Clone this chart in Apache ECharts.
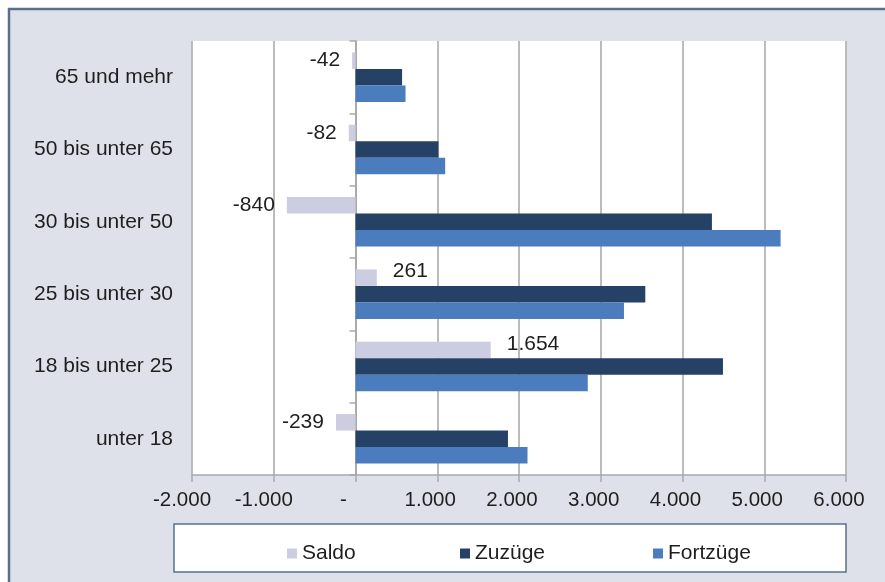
<!DOCTYPE html>
<html><head><meta charset="utf-8">
<script src="https://cdn.jsdelivr.net/npm/echarts@6/dist/echarts.min.js"></script>
<style>html,body{margin:0;padding:0;background:#fff}#c{width:885px;height:582px}</style>
</head><body><div id="c"></div>
<script>
const categories = ['unter 18', '18 bis unter 25', '25 bis unter 30', '30 bis unter 50', '50 bis unter 65', '65 und mehr'];
const saldo = [-239, 1654, 261, -840, -82, -42];
const zuzuege = [1865, 4495, 3545, 4360, 1015, 570];
const fortzuege = [2104, 2841, 3284, 5200, 1097, 612];
const xTicks = { min: -2000, max: 6000, step: 1000 };

function fmt(v) {
  const s = Math.abs(v).toString().replace(/\B(?=(\d{3})+(?!\d))/g, '.');
  return (v < 0 ? '-' : '') + s;
}
const FONT = 'Liberation Sans, Arial, sans-serif';
const TXT = '#1e1e1e';
const FS = 21;
const chart = echarts.init(document.getElementById('c'), null, { renderer: 'canvas' });
chart.setOption({
  backgroundColor: '#fff',
  animation: false,
  textStyle: { fontFamily: FONT },
  graphic: [
    { type: 'rect', z: -10, shape: { x: 9, y: 9, width: 900, height: 600 },
      style: { fill: '#dee1e9', stroke: '#5b6f8a', lineWidth: 2.5 } },
    { type: 'rect', z: -5, shape: { x: 174, y: 524, width: 672, height: 48 },
      style: { fill: '#fff', stroke: '#55708f', lineWidth: 1.5 } }
  ],
  grid: { left: 192, right: 39, top: 41, bottom: 107, show: true, backgroundColor: '#fff', borderWidth: 0 },
  legend: [
    { data: ['Saldo'], left: 282, top: 538 },
    { data: ['Zuzüge'], left: 455, top: 538 },
    { data: ['Fortzüge'], left: 648, top: 538 }
  ].map(l => Object.assign(l, { itemWidth: 10, itemHeight: 10, itemGap: 5, icon: 'rect',
      textStyle: { fontFamily: FONT, fontSize: FS, color: TXT } })),
  xAxis: {
    type: 'value', min: xTicks.min, max: xTicks.max, interval: xTicks.step,
    axisLine: { show: true, lineStyle: { color: '#a9a9a9', width: 1.5 } },
    axisTick: { show: true, length: 7, lineStyle: { color: '#a9a9a9', width: 1.5 } },
    splitLine: { show: true, lineStyle: { color: '#b5b5b5', width: 1.8 } },
    axisLabel: {
      margin: 15, fontSize: 20.5, color: TXT, fontFamily: FONT,
      formatter: v => v < 0 ? '{n|' + fmt(v) + '}' : (v === 0 ? '{z|-}' : '{p|' + fmt(v) + '}'),
      rich: {
        n: { fontSize: 20.5, color: TXT, fontFamily: FONT, padding: [0, 20, 0, 0] },
        p: { fontSize: 20.5, color: TXT, fontFamily: FONT, padding: [0, 14, 0, 0] },
        z: { fontSize: 20.5, color: TXT, fontFamily: FONT, padding: [0, 24, 0, 0] }
      }
    }
  },
  yAxis: [
    { type: 'category', data: categories, position: 'left',
      axisLine: { show: false, onZero: false }, axisTick: { show: false },
      axisLabel: { margin: 19, fontSize: FS, color: TXT, fontFamily: FONT } },
    { type: 'category', data: categories, position: 'left',
      axisLine: { show: true, onZero: true, lineStyle: { color: '#a9a9a9', width: 1.8 } },
      axisTick: { show: true, length: 6, lineStyle: { color: '#a9a9a9', width: 1.5 } },
      axisLabel: { show: false } }
  ],
  series: [
    { name: 'Saldo', type: 'bar', yAxisIndex: 0, barWidth: 16.5, barGap: '0%',
      itemStyle: { color: '#cccde0' },
      data: saldo.map(v => ({ value: v, label: v < 0
        ? { position: 'left', distance: 12, offset: [0, 0] }
        : { position: 'right', distance: 16, offset: [0, -6] } })),
      label: { show: true, fontSize: FS, color: TXT, fontFamily: FONT,
        formatter: p => fmt(p.value) } },
    { name: 'Zuzüge', type: 'bar', yAxisIndex: 0, barWidth: 16.5, barGap: '0%',
      itemStyle: { color: '#254166' }, data: zuzuege },
    { name: 'Fortzüge', type: 'bar', yAxisIndex: 0, barWidth: 16.5, barGap: '0%',
      itemStyle: { color: '#4a7cbe' }, data: fortzuege }
  ]
});
</script></body></html>
